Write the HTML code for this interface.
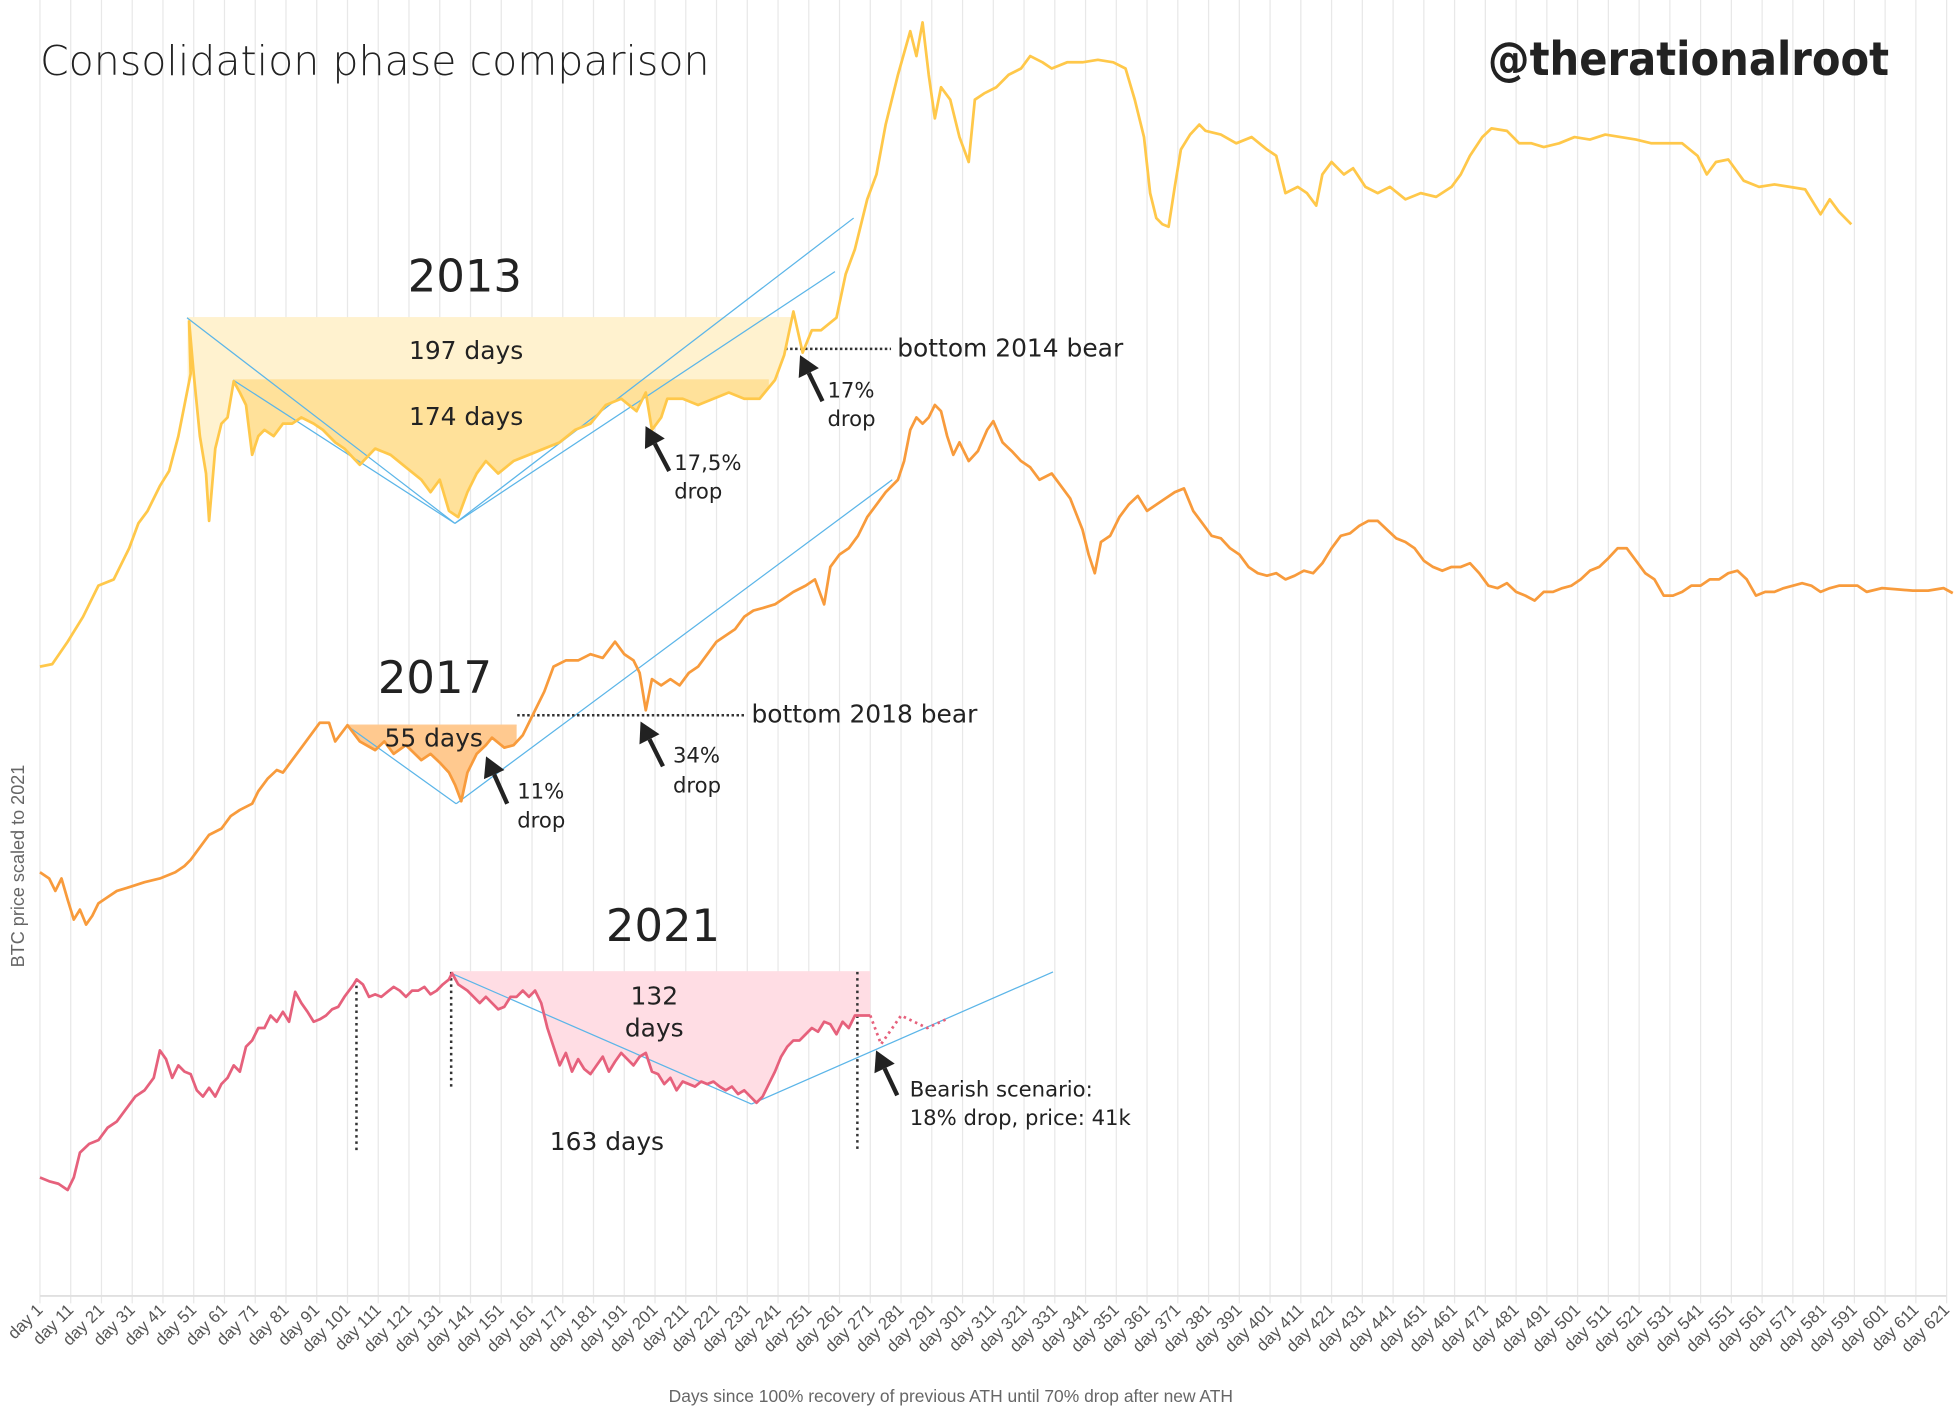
<!DOCTYPE html>
<html><head><meta charset="utf-8">
<style>
html,body{margin:0;padding:0;background:#fff;}
svg{display:block;font-family:"Liberation Sans",sans-serif;}
.ann{font-family:"DejaVu Sans","Liberation Sans",sans-serif;fill:#222;}
</style></head>
<body>
<svg id="chart" width="1954" height="1423" viewBox="0 0 1568 1142" xmlns="http://www.w3.org/2000/svg">
<g id="grid"></g>
<g id="fills"></g>
<g id="guides"></g>
<g id="series"></g>
<g id="xaxis"></g>
<text class="ann" x="32" y="60" font-size="33" fill="#333" style="font-weight:300">Consolidation phase comparison</text>
<text class="ann" x="1516" y="60" font-size="37" font-weight="bold" fill="#444" text-anchor="end" textLength="322" lengthAdjust="spacingAndGlyphs">@therationalroot</text>
<text x="19" y="695" font-size="14.5" fill="#666" text-anchor="middle" transform="rotate(-90 19 695)">BTC price scaled to 2021</text>
<text x="763" y="1125" font-size="14" fill="#666" text-anchor="middle">Days since 100% recovery of previous ATH until 70% drop after new ATH</text>
<g id="labels"></g>
</svg>
<script>
// data (value = height above baseline in chart units)
const days2013 = [1,5,10,15,20,25,30,33,36,40,43,46,48,50,49.5,51,53,55,56,58,60,62,64,66,68,70,72,74,77,80,83,86,90,93,97,100,105,110,115,120,125,128,131,134,137,140,143,146,150,155,160,165,170,175,180,185,190,195,198,200,203,205,210,215,220,225,230,235,240,243,246,249,252,255,260,263,266,268,270,273,276,280,284,286,288,290,292,294,297,300,303,305,308,312,316,320,323,327,330,335,340,345,350,354,357,360,362,364,366,368,370,372,375,378,380,385,390,395,400,403,406,410,413,416,418,421,425,428,432,436,440,445,450,455,460,463,466,470,473,478,482,486,490,495,500,505,510,515,520,525,530,535,540,543,546,550,555,560,565,570,575,580,583,586,590];
const vals2013 = [505,507,525,545,570,575,600,620,630,650,662,690,715,740,782,740,690,660,622,680,700,705,734,725,715,675,690,695,690,700,700,705,700,695,685,680,667,680,675,665,655,645,655,630,625,645,660,670,660,670,675,680,685,695,700,715,720,710,725,695,705,720,720,715,720,725,720,720,735,755,790,757,775,775,785,820,840,860,880,900,940,980,1015,995,1022,980,945,970,960,930,910,960,965,970,980,985,995,990,985,990,990,992,990,985,960,930,885,865,860,858,890,920,932,940,935,932,925,930,920,915,885,890,885,875,900,910,900,905,890,885,890,880,885,882,890,900,915,930,937,935,925,925,922,925,930,928,932,930,928,925,925,925,915,900,910,912,895,890,892,890,888,868,880,870,860];
const days2017 = [1,4,6,8,10,12,14,16,18,20,23,26,30,35,40,45,48,50,53,56,60,63,66,70,72,75,78,80,83,86,89,92,95,97,101,105,110,113,116,120,125,128,131,134,136,138,140,143,146,148,152,155,158,160,162,165,168,172,176,180,184,188,191,194,196,198,200,203,206,209,212,215,218,221,224,227,230,233,236,240,243,246,250,253,256,258,261,264,267,270,273,276,280,282,284,286,288,290,292,294,296,298,300,303,306,309,311,314,317,320,323,326,330,333,336,340,342,344,346,349,352,355,358,361,364,367,370,373,376,379,382,385,388,391,394,397,400,403,406,409,412,415,418,421,424,427,430,433,436,439,442,445,448,451,454,457,460,463,466,469,472,475,478,481,484,487,490,493,496,499,502,505,508,511,514,517,520,523,526,529,532,535,538,541,544,547,550,553,556,559,562,565,568,571,574,577,580,583,586,589,592,595,600,605,610,615,620,623];
const vals2017 = [340,335,325,335,318,302,310,298,305,315,320,325,328,332,335,340,345,350,360,370,375,385,390,395,405,415,422,420,430,440,450,460,460,445,458,445,438,445,435,442,430,435,428,420,410,397,420,435,442,448,440,442,450,460,470,485,505,510,510,515,512,525,515,510,500,470,495,490,495,490,500,505,515,525,530,535,545,550,552,555,560,565,570,575,555,585,595,600,610,625,635,645,655,670,695,705,700,705,715,710,690,675,685,670,678,695,702,685,678,670,665,655,660,650,640,615,595,580,605,610,625,635,642,630,635,640,645,648,630,620,610,608,600,595,585,580,578,580,575,578,582,580,588,600,610,612,618,622,622,615,608,605,600,590,585,582,585,585,588,580,570,568,572,565,562,558,565,565,568,570,575,582,585,592,600,600,590,580,575,562,562,565,570,570,575,575,580,582,575,562,565,565,568,570,572,570,565,568,570,570,570,565,568,567,566,566,568,564];
const days2021 = [1,4,7,10,12,14,17,20,23,26,29,32,35,38,40,42,44,46,48,50,52,54,56,58,60,62,64,66,68,70,72,74,76,78,80,82,84,86,88,90,92,94,96,98,100,103,104,106,108,110,112,114,116,118,120,122,124,126,128,130,132,134,135,137,140,142,144,146,148,150,152,154,156,158,160,162,164,166,168,170,172,174,176,178,180,182,184,186,188,190,192,194,196,198,200,202,204,206,208,210,212,214,216,218,220,222,224,226,228,230,232,234,236,238,240,242,244,246,248,250,252,254,256,258,260,262,264,266,268,270,271];
const vals2021 = [95,92,90,85,95,115,122,125,135,140,150,160,165,175,197,190,175,185,180,178,165,160,167,160,170,175,185,180,200,205,215,215,225,220,228,220,244,235,228,220,222,225,230,232,240,250,254,250,240,242,240,244,248,245,240,245,245,248,242,245,250,254,259,250,245,240,235,240,235,230,232,240,240,245,240,245,235,215,200,185,195,180,190,182,178,185,192,180,188,195,190,185,192,195,180,178,170,175,165,172,170,168,172,170,172,168,165,168,162,165,160,155,160,170,180,192,200,205,205,210,215,212,220,218,210,220,215,225,225,225,225];
const projDays = [271,274.5,281,289.5,295.7];
const projVals = [225,202,225,215,222];
const tickDays = []; for (let d=1; d<=621; d+=10) tickDays.push(d);

const X0=32, PX=2.468, BASE=1040;
const xs = d => X0 + (d-1)*PX;
const ys = v => BASE - v;
const NS='http://www.w3.org/2000/svg';
function mk(tag, parent, attrs){const e=document.createElementNS(NS,tag);for(const k in attrs)e.setAttribute(k,attrs[k]);parent.appendChild(e);return e;}

const grid=document.getElementById('grid'), xaxis=document.getElementById('xaxis');
tickDays.forEach(d=>{
  const l=mk('line',grid,{x1:xs(d),x2:xs(d),y1:0,y2:BASE+6,stroke:'#e8e8e8','stroke-width':1});
  
  
  const t=mk('text',xaxis,{x:xs(d)+3,y:BASE+12,'font-size':13.5,fill:'#555','text-anchor':'end',transform:`rotate(-45 ${xs(d)+3} ${BASE+12})`});
  t.textContent='day '+d;
  
  
});
const bl=mk('line',xaxis,{x1:X0,x2:1562,y1:BASE,y2:BASE,stroke:'#e0e0e0','stroke-width':1.5});



function interp(ds,vs,d){for(let i=1;i<ds.length;i++){if(ds[i]>=d){const t=(d-ds[i-1])/((ds[i]-ds[i-1])||1);return vs[i-1]+t*(vs[i]-vs[i-1]);}}return vs[vs.length-1];}
function fillArea(ds,vs,d0,d1,level,color,name){
  const pts=[[xs(d0),ys(level)]];
  pts.push([xs(d0),Math.max(ys(level),ys(interp(ds,vs,d0)))]);
  ds.forEach((d,i)=>{if(d>d0&&d<d1)pts.push([xs(d),Math.max(ys(level),ys(vs[i]))]);});
  pts.push([xs(d1),Math.max(ys(level),ys(interp(ds,vs,d1)))]);
  pts.push([xs(d1),ys(level)]);
  const p=mk('polygon',document.getElementById('fills'),{points:pts.map(p=>p.join(',')).join(' '),fill:color});
  
  
  const l=mk('line',document.getElementById('fills'),{x1:xs(d0),x2:xs(d1),y1:ys(level),y2:ys(level),stroke:color,'stroke-width':1.2,opacity:0.9});
  
  
}
fillArea(days2013,vals2013,49,246,785,'#FFF2CF','range-197-days');
fillArea(days2013,vals2013,64,238,735,'#FFE19A','range-174-days');
fillArea(days2017,vals2017,101,156,458,'#FFC98F','range-55-days');
fillArea(days2021,vals2021,135,271,260,'#FFDDE4','range-132-days');

function line(ds,vs,color,name,dash){
  const p=mk('polyline',document.getElementById('series'),{points:ds.map((d,i)=>xs(d)+','+ys(vs[i])).join(' '),fill:'none',stroke:color,'stroke-width':2.2,'stroke-linejoin':'round'});
  if(dash)p.setAttribute('stroke-dasharray',dash);
  
  
}
const G=document.getElementById('guides');
function seg(x1,y1,x2,y2,name,stroke,w,dash){
  const l=mk('line',G,{x1,y1,x2,y2,stroke,'stroke-width':w});
  if(dash)l.setAttribute('stroke-dasharray',dash);
  
  
}
const B='#5BB5E8';
seg(150,255,365,420,'trend-2013-a',B,1);seg(187,305,365,420,'trend-2013-b',B,1);
seg(365,420,685,175,'trend-2013-c',B,1);seg(365,420,670,218,'trend-2013-d',B,1);
seg(278,582,366,645,'trend-2017-a',B,1);seg(366,645,716,385,'trend-2017-b',B,1);
seg(362,781,603,886,'trend-2021-a',B,1);seg(603,886,845,780,'trend-2021-b',B,1);
seg(630,280,715,280,'bottom-2014-line','#333',2,'2 2');
seg(415,574,597,574,'bottom-2018-line','#333',2,'2 2');
seg(286,786,286,925,'marker-2021-a','#333',2,'2 3');
seg(362,780,362,872,'marker-2021-b','#333',2,'2 3');
seg(688,780,688,925,'marker-2021-c','#333',2,'2 3');

line(days2013,vals2013,'#FFC84A','series-2013');
line(days2017,vals2017,'#F89B3C','series-2017');
line(days2021,vals2021,'#E6617C','series-2021');
line(projDays,projVals,'#E6617C','series-2021-projection','2 3');

const L=document.getElementById('labels');
function txt(x,y,s,size,name,anchor){const t=mk('text',L,{x,y,'font-size':size,class:'ann','text-anchor':anchor||'start'});t.textContent=s;}
function arrow(hx,hy,tx,ty,name){
  const a=Math.atan2(hy-ty,hx-tx),len=16,w=9;
  const bx=hx-len*Math.cos(a),by=hy-len*Math.sin(a);
  const g=mk('g',L,{});
  
  
  mk('line',g,{x1:tx,y1:ty,x2:bx,y2:by,stroke:'#222','stroke-width':3.5});
  mk('polygon',g,{points:`${hx},${hy} ${bx+w*Math.sin(a)},${by-w*Math.cos(a)} ${bx-w*Math.sin(a)},${by+w*Math.cos(a)}`,fill:'#222'});
}
txt(373,234,'2013',36,'label-2013','middle');
txt(374,288,'197 days',20,'label-197-days','middle');
txt(374,341,'174 days',20,'label-174-days','middle');
txt(720,286,'bottom 2014 bear',20,'label-bottom-2014');
arrow(642,285,660,322,'arrow-17');
txt(664,319,'17%',17,'label-17-pct');txt(664,342,'drop',17,'label-17-drop');
arrow(518,342,537,378,'arrow-17-5');
txt(541,377,'17,5%',17,'label-17-5-pct');txt(541,400,'drop',17,'label-17-5-drop');
txt(349,556,'2017',36,'label-2017','middle');
txt(348,599,'55 days',20,'label-55-days','middle');
txt(603,580,'bottom 2018 bear',20,'label-bottom-2018');
arrow(390,607,407,645,'arrow-11');
txt(415,641,'11%',17,'label-11-pct');txt(415,664,'drop',17,'label-11-drop');
arrow(514,579,532,615,'arrow-34');
txt(540,612,'34%',17,'label-34-pct');txt(540,636,'drop',17,'label-34-drop');
txt(532,755,'2021',36,'label-2021','middle');
txt(525,806,'132',20,'label-132','middle');txt(525,832,'days',20,'label-132-days','middle');
txt(487,923,'163 days',20,'label-163-days','middle');
arrow(703,843,720,879,'arrow-bearish');
txt(730,880,'Bearish scenario:',17,'label-bearish');
txt(730,903,'18% drop,  price: 41k',17,'label-bearish-price');
</script>
</body></html>
